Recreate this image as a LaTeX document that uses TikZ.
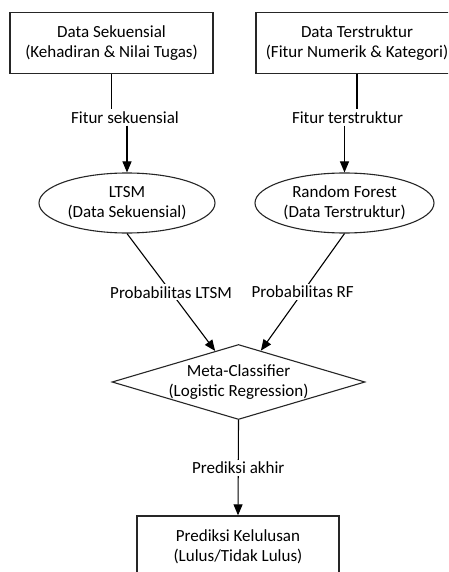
\documentclass[tikz,border=0pt]{standalone}
\usepackage{fontspec}
\setmainfont{Carlito}
\usetikzlibrary{shapes.geometric,arrows.meta}
\begin{document}
\begin{tikzpicture}[x=1pt,y=-1pt,
  every node/.style={font=\fontsize{17}{20}\selectfont, align=center},
  boxnode/.style={draw=black!85, line width=1.3pt, rectangle, minimum width=203pt, minimum height=60.5pt, inner sep=0pt},
  ellnode/.style={draw=black!85, line width=1.1pt, ellipse, minimum height=60pt, inner sep=0pt},
  dianode/.style={draw=black!85, line width=1.1pt, diamond, minimum width=253pt, minimum height=75pt, inner sep=0pt},
  lbl/.style={fill=white, inner sep=2pt},
  conn/.style={line width=1.1pt, black},
  arr/.style={conn, -{Triangle[length=11pt,width=9pt]}}
]
\clip (0,0) rectangle (448,572);
\fill[white] (0,0) rectangle (448,572);
% boxes
\node[boxnode] (b1) at (111.5,43) {Data Sekuensial\\(Kehadiran \& Nilai Tugas)};
\node[boxnode, minimum width=202pt] (b2) at (357,43) {Data Terstruktur\\(Fitur Numerik \& Kategori)};
% ellipses
\node[ellnode, minimum width=176pt, label={[align=center]center:LTSM\\(Data Sekuensial)}] (e1) at (127,203) {};
\node[ellnode, minimum width=179pt, label={[align=center]center:Random Forest\\(Data Terstruktur)}] (e2) at (344.5,203) {};
% diamond
\node[dianode, label={[align=center]center:Meta-Classifier\\(Logistic Regression)}] (d) at (238.5,382) {};
% bottom box
\node[boxnode, minimum width=202pt, minimum height=61pt] (b3) at (238,546.5) {Prediksi Kelulusan\\(Lulus/Tidak Lulus)};
% labels on top connectors
\node[lbl] (l1) at (125,117.5) {Fitur sekuensial};
\node[lbl] (l2) at (347.5,117.5) {Fitur terstruktur};
% connectors
\draw[conn] (b1.south) -- (b1.south |- l1.north);
\draw[arr] (e1.north |- l1.south) -- (e1.north);
\draw[conn] (b2.south) -- (b2.south |- l2.north);
\draw[arr] (e2.north |- l2.south) -- (e2.north);
\draw[arr] (e1.south) -- (d) node[lbl, midway] (l3) {Probabilitas LTSM};
\draw[arr] (e2.south) -- (d) node[lbl, midway] (l4) {Probabilitas RF};
\draw[arr] (d.south) -- (b3.north) node[lbl, midway] (l5) {Prediksi akhir};
\end{tikzpicture}
\end{document}
